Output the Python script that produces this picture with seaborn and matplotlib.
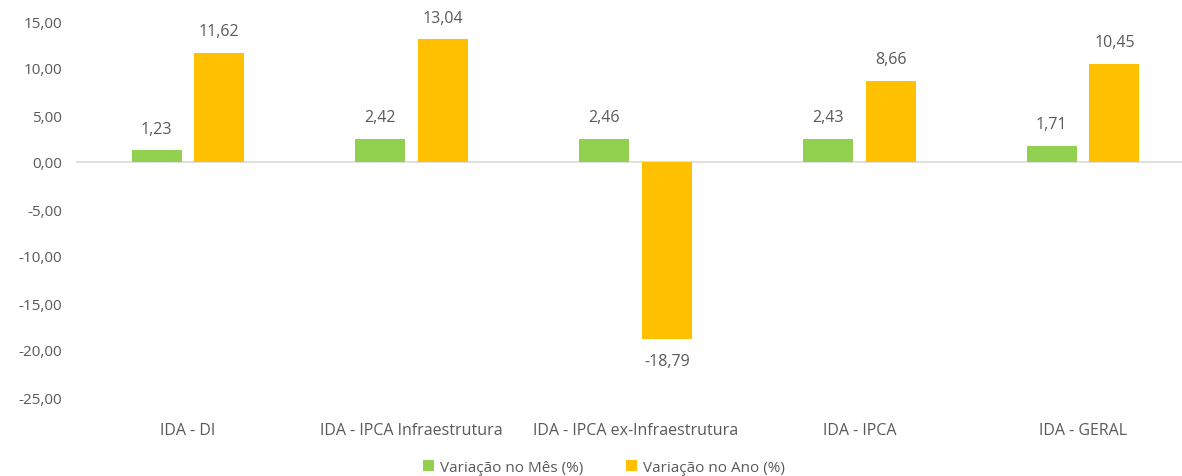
import matplotlib
matplotlib.use("Agg")
import matplotlib.pyplot as plt
import seaborn as sns
import pandas as pd

categorias = ["IDA - DI", "IDA - IPCA Infraestrutura", "IDA - IPCA ex-Infraestrutura",
              "IDA - IPCA", "IDA - GERAL"]
variacao_mes = [1.23, 2.42, 2.46, 2.43, 1.71]
variacao_ano = [11.62, 13.04, -18.79, 8.66, 10.45]
series = ["Variação no Mês (%)", "Variação no Ano (%)"]
cores = ["#92D050", "#FFC000"]
yticks = [15, 10, 5, 0, -5, -10, -15, -20, -25]

df = pd.DataFrame({
    "categoria": categorias * 2,
    "serie": [series[0]] * len(categorias) + [series[1]] * len(categorias),
    "valor": variacao_mes + variacao_ano,
})

sns.set_style("white")
plt.rcParams["font.family"] = ["Open Sans", "DejaVu Sans"]
cinza = "#595959"

fig = plt.figure(figsize=(11.82, 4.77), dpi=100)
ax = fig.add_axes([76 / 1182, 79 / 477, 1119 / 1182, 376 / 477])

sns.barplot(data=df, x="categoria", y="valor", hue="serie", palette=cores,
            saturation=1, linewidth=0, width=0.56, gap=0.2, ax=ax, legend=True)

ax.set_ylim(-25, 15)
ax.set_yticks(yticks)
ax.set_yticklabels([f"{v:.2f}".replace(".", ",") for v in yticks], color=cinza, fontsize=11)
ax.tick_params(axis="x", colors=cinza, labelsize=11.5, length=0, pad=18)
ax.tick_params(axis="y", length=0, pad=10)
ax.set_xlabel("")
ax.set_ylabel("")
for s in ax.spines.values():
    s.set_visible(False)
ax.axhline(0, color="#D9D9D9", lw=1.2, zorder=0)

for cont in ax.containers:
    ax.bar_label(cont, labels=[f"{v:.2f}".replace(".", ",") for v in cont.datavalues],
                 padding=10, color=cinza, fontsize=11.5)

ax.legend(loc="upper center", bbox_to_anchor=(0.472, -0.13), ncol=2, frameon=False,
          fontsize=11, handlelength=0.7, handleheight=0.7, columnspacing=2.8,
          handletextpad=0.4, labelcolor=cinza)

fig.savefig("out.png", dpi=100)
